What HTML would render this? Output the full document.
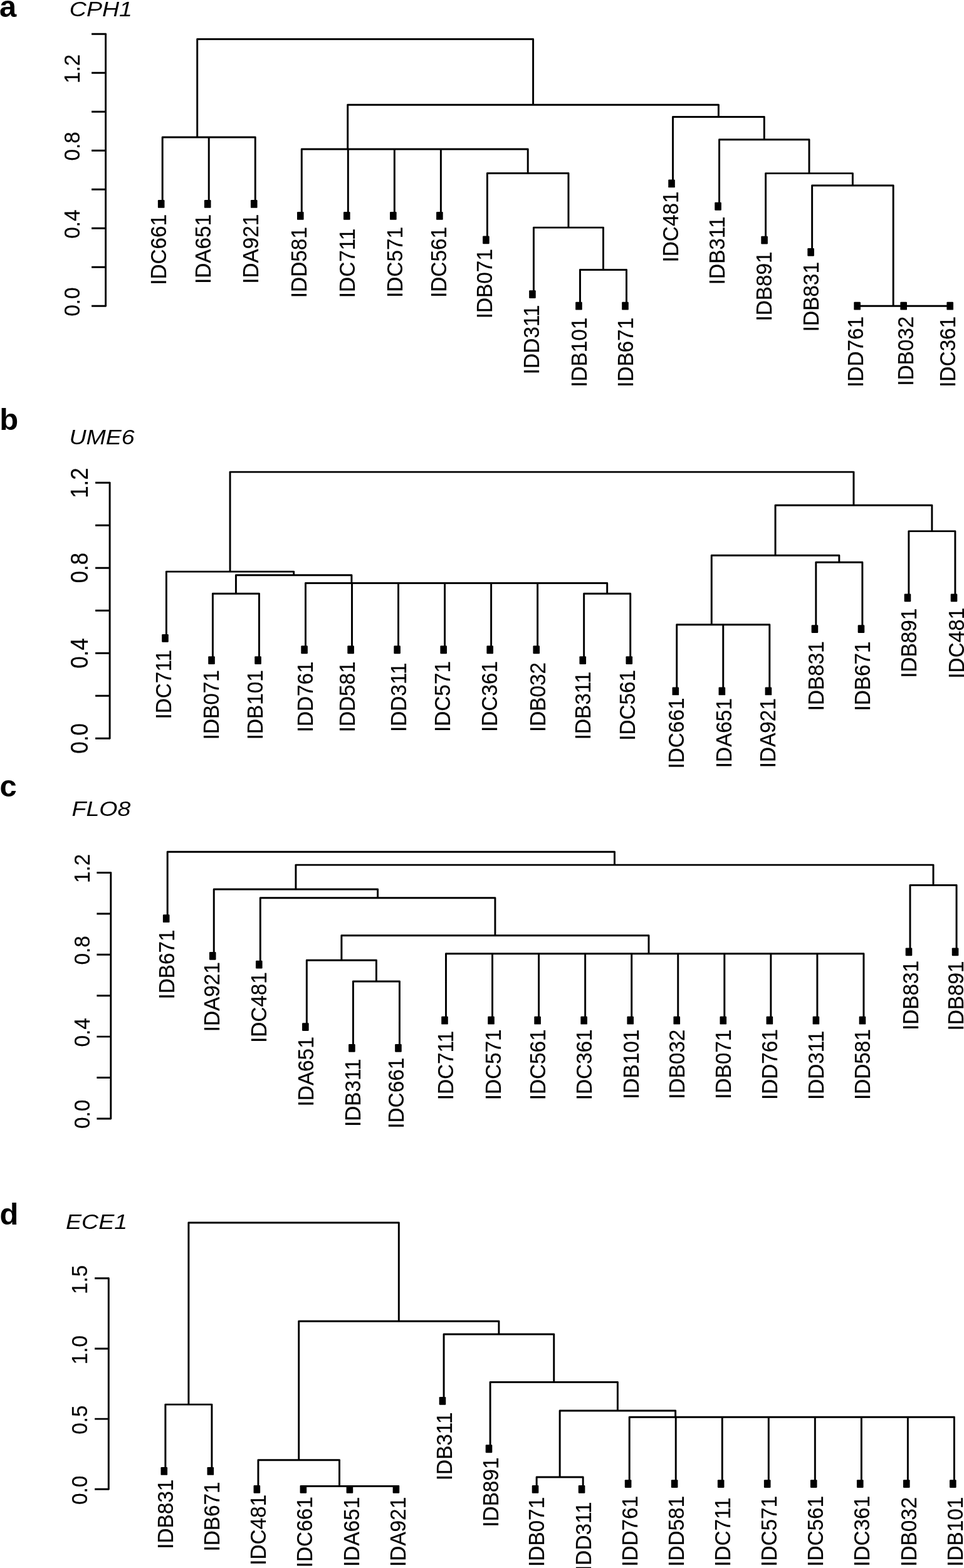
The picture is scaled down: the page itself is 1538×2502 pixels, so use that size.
<!DOCTYPE html>
<html lang="en">
<head>
<meta charset="utf-8">
<title>Dendrograms: CPH1, UME6, FLO8, ECE1</title>
<style>
html,body{margin:0;padding:0;background:#fff;}
body{width:1538px;height:2502px;overflow:hidden;}
svg{display:block;}
.ln{fill:none;stroke:#000;stroke-width:2.95;stroke-linecap:round;stroke-linejoin:round;}
.tk{fill:none;stroke:#000;stroke-width:2.95;stroke-linecap:butt;}
.mk{fill:#000;}
text{font-family:"Liberation Sans",Arial,Helvetica,sans-serif;fill:#000;}
.lb{font-size:33.3px;stroke:#000;stroke-width:0.2px;}
.ax{font-size:33.3px;stroke:#000;stroke-width:0.2px;}
.pl{font-size:49px;font-weight:bold;}
.ti{font-size:34px;font-style:italic;}
</style>
</head>
<body>
<svg width="1538" height="2502" viewBox="0 0 1538 2502">
<rect width="1538" height="2502" fill="#fff"/>
<path class="ln" d="M314.72 62.4H850.57M314.72 62.4V219M259.2 219H370.25M259.2 219V325.45M333.23 219H407.26M333.23 219V325.45M407.26 219V325.45M850.57 62.4V167.3M554.74 167.3H1146.4M554.74 167.3V238M481.29 238H628.19M481.29 238V344.45M555.32 238H701.07M555.32 238V344.45M629.35 238H772.78M629.35 238V344.45M703.38 238H842.19M703.38 238V344.45M842.19 238V276.4M777.41 276.4H906.96M777.41 276.4V382.85M906.96 276.4V363.1M851.44 363.1H962.49M851.44 363.1V469.55M962.49 363.1V430.5M925.47 430.5H999.5M925.47 430.5V488.2M999.5 430.5V488.2M1146.4 167.3V186.5M1073.53 186.5H1219.28M1073.53 186.5V292.95M1219.28 186.5V222.8M1147.56 222.8H1290.99M1147.56 222.8V329.25M1290.99 222.8V276.6M1221.59 276.6H1360.4M1221.59 276.6V383.05M1360.4 276.6V295.9M1295.62 295.9H1425.17M1295.62 295.9V402.35M1425.17 295.9V488.2M1369.65 488.2H1480.7M1443.68 488.2H1517.71"/>
<path class="ln" d="M168.6 488.2V54.2"/>
<path class="tk" d="M146.1 488.2H168.6M146.1 426.2H168.6M146.1 364.2H168.6M146.1 302.2H168.6M146.1 240.2H168.6M146.1 178.2H168.6M146.1 116.2H168.6M146.1 54.2H168.6"/>
<text class="ax" style="font-size:33.3px" transform="translate(126.7 504.69) rotate(-90) scale(1 1.078)">0.0</text>
<text class="ax" style="font-size:33.3px" transform="translate(126.7 380.85) rotate(-90) scale(1 1.078)">0.4</text>
<text class="ax" style="font-size:33.3px" transform="translate(126.7 256.6) rotate(-90) scale(1 1.078)">0.8</text>
<text class="ax" style="font-size:33.3px" transform="translate(126.7 133.06) rotate(-90) scale(1 1.078)">1.2</text>
<rect class="mk" x="251.9" y="319.05" width="10.6" height="12.8" rx="1.2"/>
<rect class="mk" x="325.93" y="319.05" width="10.6" height="12.8" rx="1.2"/>
<rect class="mk" x="399.96" y="319.05" width="10.6" height="12.8" rx="1.2"/>
<rect class="mk" x="473.99" y="338.05" width="10.6" height="12.8" rx="1.2"/>
<rect class="mk" x="548.02" y="338.05" width="10.6" height="12.8" rx="1.2"/>
<rect class="mk" x="622.05" y="338.05" width="10.6" height="12.8" rx="1.2"/>
<rect class="mk" x="696.08" y="338.05" width="10.6" height="12.8" rx="1.2"/>
<rect class="mk" x="770.11" y="376.45" width="10.6" height="12.8" rx="1.2"/>
<rect class="mk" x="844.14" y="463.15" width="10.6" height="12.8" rx="1.2"/>
<rect class="mk" x="918.17" y="481.8" width="10.6" height="12.8" rx="1.2"/>
<rect class="mk" x="992.2" y="481.8" width="10.6" height="12.8" rx="1.2"/>
<rect class="mk" x="1066.23" y="286.55" width="10.6" height="12.8" rx="1.2"/>
<rect class="mk" x="1140.26" y="322.85" width="10.6" height="12.8" rx="1.2"/>
<rect class="mk" x="1214.29" y="376.65" width="10.6" height="12.8" rx="1.2"/>
<rect class="mk" x="1288.32" y="395.95" width="10.6" height="12.8" rx="1.2"/>
<rect class="mk" x="1362.35" y="481.8" width="10.6" height="12.8" rx="1.2"/>
<rect class="mk" x="1436.38" y="481.8" width="10.6" height="12.8" rx="1.2"/>
<rect class="mk" x="1510.41" y="481.8" width="10.6" height="12.8" rx="1.2"/>
<text class="lb" transform="translate(264.7 454.83) rotate(-90) scale(1 1.078)">IDC661</text>
<text class="lb" transform="translate(336.03 453.03) rotate(-90) scale(1 1.078)">IDA651</text>
<text class="lb" transform="translate(411.96 452.73) rotate(-90) scale(1 1.078)">IDA921</text>
<text class="lb" transform="translate(489.39 475.13) rotate(-90) scale(1 1.078)">IDD581</text>
<text class="lb" transform="translate(566.12 475.13) rotate(-90) scale(1 1.078)">IDC711</text>
<text class="lb" transform="translate(641.65 474.93) rotate(-90) scale(1 1.078)">IDC571</text>
<text class="lb" transform="translate(711.78 474.93) rotate(-90) scale(1 1.078)">IDC561</text>
<text class="lb" transform="translate(785.31 508.33) rotate(-90) scale(1 1.078)">IDB071</text>
<text class="lb" transform="translate(859.54 597.13) rotate(-90) scale(1 1.078)">IDD311</text>
<text class="lb" transform="translate(935.77 617.78) rotate(-90) scale(1 1.078)">IDB101</text>
<text class="lb" transform="translate(1010.1 617.88) rotate(-90) scale(1 1.078)">IDB671</text>
<text class="lb" transform="translate(1081.93 418.43) rotate(-90) scale(1 1.078)">IDC481</text>
<text class="lb" transform="translate(1155.96 454.13) rotate(-90) scale(1 1.078)">IDB311</text>
<text class="lb" transform="translate(1230.59 512.43) rotate(-90) scale(1 1.078)">IDB891</text>
<text class="lb" transform="translate(1305.62 529.13) rotate(-90) scale(1 1.078)">IDB831</text>
<text class="lb" transform="translate(1377.15 617.88) rotate(-90) scale(1 1.078)">IDD761</text>
<text class="lb" transform="translate(1456.88 615.78) rotate(-90) scale(1 1.078)">IDB032</text>
<text class="lb" transform="translate(1523.61 617.88) rotate(-90) scale(1 1.078)">IDC361</text>
<text class="pl" x="-1" y="26.5">a</text>
<text class="ti" transform="translate(110.8 26.3) scale(1.105 1)">CPH1</text>
<path class="ln" d="M367.05 753.1H1361.97M367.05 753.1V912.1M265.4 912.1H468.69M265.4 912.1V1018.38M468.69 912.1V917.7M376.44 917.7H560.94M376.44 917.7V947.3M339.43 947.3H413.46M339.43 947.3V1053.58M413.46 947.3V1053.58M560.94 917.7V930.5M487.49 930.5H634.39M487.49 930.5V1036.77M561.52 930.5H707.27M561.52 930.5V1036.77M635.55 930.5H778.98M635.55 930.5V1036.77M709.58 930.5H848.39M709.58 930.5V1036.77M783.61 930.5H913.16M783.61 930.5V1036.77M857.64 930.5H968.68M857.64 930.5V1036.77M968.68 930.5V947.3M931.67 947.3H1005.7M931.67 947.3V1053.58M1005.7 947.3V1053.58M1361.97 753.1V806.2M1237.04 806.2H1486.89M1237.04 806.2V886.2M1135.25 886.2H1338.84M1135.25 886.2V996.7M1079.73 996.7H1190.78M1079.73 996.7V1102.97M1153.76 996.7H1227.79M1153.76 996.7V1102.97M1227.79 996.7V1102.97M1338.84 886.2V897.3M1301.82 897.3H1375.85M1301.82 897.3V1003.58M1375.85 897.3V1003.58M1486.89 806.2V847.6M1449.88 847.6H1523.91M1449.88 847.6V953.88M1523.91 847.6V953.88"/>
<path class="ln" d="M175.1 1178.2V770.2"/>
<path class="tk" d="M152.1 1178.2H175.1M152.1 1110.2H175.1M152.1 1042.2H175.1M152.1 974.2H175.1M152.1 906.2H175.1M152.1 838.2H175.1M152.1 770.2H175.1"/>
<text class="ax" style="font-size:34.8px" transform="translate(140.2 1202.43) rotate(-90) scale(1 1.1)">0.0</text>
<text class="ax" style="font-size:34.8px" transform="translate(140.2 1066.6) rotate(-90) scale(1 1.1)">0.4</text>
<text class="ax" style="font-size:34.8px" transform="translate(140.2 930.34) rotate(-90) scale(1 1.1)">0.8</text>
<text class="ax" style="font-size:34.8px" transform="translate(140.2 794.82) rotate(-90) scale(1 1.1)">1.2</text>
<rect class="mk" x="258.2" y="1011.98" width="10.6" height="12.8" rx="1.2"/>
<rect class="mk" x="332.23" y="1047.17" width="10.6" height="12.8" rx="1.2"/>
<rect class="mk" x="406.26" y="1047.17" width="10.6" height="12.8" rx="1.2"/>
<rect class="mk" x="480.29" y="1030.37" width="10.6" height="12.8" rx="1.2"/>
<rect class="mk" x="554.32" y="1030.37" width="10.6" height="12.8" rx="1.2"/>
<rect class="mk" x="628.35" y="1030.37" width="10.6" height="12.8" rx="1.2"/>
<rect class="mk" x="702.38" y="1030.37" width="10.6" height="12.8" rx="1.2"/>
<rect class="mk" x="776.41" y="1030.37" width="10.6" height="12.8" rx="1.2"/>
<rect class="mk" x="850.44" y="1030.37" width="10.6" height="12.8" rx="1.2"/>
<rect class="mk" x="924.47" y="1047.17" width="10.6" height="12.8" rx="1.2"/>
<rect class="mk" x="998.5" y="1047.17" width="10.6" height="12.8" rx="1.2"/>
<rect class="mk" x="1072.53" y="1096.57" width="10.6" height="12.8" rx="1.2"/>
<rect class="mk" x="1146.56" y="1096.57" width="10.6" height="12.8" rx="1.2"/>
<rect class="mk" x="1220.59" y="1096.57" width="10.6" height="12.8" rx="1.2"/>
<rect class="mk" x="1294.62" y="997.18" width="10.6" height="12.8" rx="1.2"/>
<rect class="mk" x="1368.65" y="997.18" width="10.6" height="12.8" rx="1.2"/>
<rect class="mk" x="1442.68" y="947.48" width="10.6" height="12.8" rx="1.2"/>
<rect class="mk" x="1516.71" y="947.48" width="10.6" height="12.8" rx="1.2"/>
<text class="lb" transform="translate(273.1 1147.46) rotate(-90) scale(1 1.078)">IDC711</text>
<text class="lb" transform="translate(348.73 1180.26) rotate(-90) scale(1 1.078)">IDB071</text>
<text class="lb" transform="translate(418.76 1180.26) rotate(-90) scale(1 1.078)">IDB101</text>
<text class="lb" transform="translate(498.59 1168.26) rotate(-90) scale(1 1.078)">IDD761</text>
<text class="lb" transform="translate(566.32 1168.26) rotate(-90) scale(1 1.078)">IDD581</text>
<text class="lb" transform="translate(647.75 1167.96) rotate(-90) scale(1 1.078)">IDD311</text>
<text class="lb" transform="translate(718.08 1167.96) rotate(-90) scale(1 1.078)">IDC571</text>
<text class="lb" transform="translate(793.41 1167.96) rotate(-90) scale(1 1.078)">IDC361</text>
<text class="lb" transform="translate(869.54 1167.96) rotate(-90) scale(1 1.078)">IDB032</text>
<text class="lb" transform="translate(942.27 1180.26) rotate(-90) scale(1 1.078)">IDB311</text>
<text class="lb" transform="translate(1013.4 1181.86) rotate(-90) scale(1 1.078)">IDC561</text>
<text class="lb" transform="translate(1090.83 1226.46) rotate(-90) scale(1 1.078)">IDC661</text>
<text class="lb" transform="translate(1167.06 1225.16) rotate(-90) scale(1 1.078)">IDA651</text>
<text class="lb" transform="translate(1237.09 1225.16) rotate(-90) scale(1 1.078)">IDA921</text>
<text class="lb" transform="translate(1313.72 1134.26) rotate(-90) scale(1 1.078)">IDB831</text>
<text class="lb" transform="translate(1387.75 1134.56) rotate(-90) scale(1 1.078)">IDB671</text>
<text class="lb" transform="translate(1462.38 1081.86) rotate(-90) scale(1 1.078)">IDB891</text>
<text class="lb" transform="translate(1537.71 1082.66) rotate(-90) scale(1 1.078)">IDC481</text>
<text class="pl" x="-0.8" y="685.5">b</text>
<text class="ti" transform="translate(110.4 709.3) scale(1.105 1)">UME6</text>
<path class="ln" d="M267.2 1359.3H980.48M267.2 1359.3V1465.7M980.48 1359.3V1380.1M471.94 1380.1H1489.03M471.94 1380.1V1418.9M341.25 1418.9H602.62M341.25 1418.9V1525.3M602.62 1418.9V1432.7M415.3 1432.7H789.94M415.3 1432.7V1539.1M789.94 1432.7V1492.7M544.89 1492.7H1035M544.89 1492.7V1532.2M489.35 1532.2H600.42M489.35 1532.2V1638.6M600.42 1532.2V1565.9M563.4 1565.9H637.45M563.4 1565.9V1672.3M637.45 1565.9V1672.3M1035 1492.7V1521.8M711.5 1521.8H1377.95M711.5 1521.8V1628.2M785.55 1521.8V1628.2M859.6 1521.8V1628.2M933.65 1521.8V1628.2M1007.7 1521.8V1628.2M1081.75 1521.8V1628.2M1155.8 1521.8V1628.2M1229.85 1521.8V1628.2M1303.9 1521.8V1628.2M1377.95 1521.8V1628.2M1489.03 1380.1V1412.4M1452 1412.4H1526.05M1452 1412.4V1518.8M1526.05 1412.4V1518.8"/>
<path class="ln" d="M176.8 1784.9V1392.5"/>
<path class="tk" d="M154.4 1784.9H176.8M154.4 1719.5H176.8M154.4 1654.1H176.8M154.4 1588.7H176.8M154.4 1523.3H176.8M154.4 1457.9H176.8M154.4 1392.5H176.8"/>
<text class="ax" style="font-size:33.3px" transform="translate(142.6 1801.09) rotate(-90) scale(1 1.078)">0.0</text>
<text class="ax" style="font-size:33.3px" transform="translate(142.6 1670.45) rotate(-90) scale(1 1.078)">0.4</text>
<text class="ax" style="font-size:33.3px" transform="translate(142.6 1539.4) rotate(-90) scale(1 1.078)">0.8</text>
<text class="ax" style="font-size:33.3px" transform="translate(142.6 1409.06) rotate(-90) scale(1 1.078)">1.2</text>
<rect class="mk" x="259.9" y="1459.3" width="10.6" height="12.8" rx="1.2"/>
<rect class="mk" x="333.95" y="1518.9" width="10.6" height="12.8" rx="1.2"/>
<rect class="mk" x="408" y="1532.7" width="10.6" height="12.8" rx="1.2"/>
<rect class="mk" x="482.05" y="1632.2" width="10.6" height="12.8" rx="1.2"/>
<rect class="mk" x="556.1" y="1665.9" width="10.6" height="12.8" rx="1.2"/>
<rect class="mk" x="630.15" y="1665.9" width="10.6" height="12.8" rx="1.2"/>
<rect class="mk" x="704.2" y="1621.8" width="10.6" height="12.8" rx="1.2"/>
<rect class="mk" x="778.25" y="1621.8" width="10.6" height="12.8" rx="1.2"/>
<rect class="mk" x="852.3" y="1621.8" width="10.6" height="12.8" rx="1.2"/>
<rect class="mk" x="926.35" y="1621.8" width="10.6" height="12.8" rx="1.2"/>
<rect class="mk" x="1000.4" y="1621.8" width="10.6" height="12.8" rx="1.2"/>
<rect class="mk" x="1074.45" y="1621.8" width="10.6" height="12.8" rx="1.2"/>
<rect class="mk" x="1148.5" y="1621.8" width="10.6" height="12.8" rx="1.2"/>
<rect class="mk" x="1222.55" y="1621.8" width="10.6" height="12.8" rx="1.2"/>
<rect class="mk" x="1296.6" y="1621.8" width="10.6" height="12.8" rx="1.2"/>
<rect class="mk" x="1370.65" y="1621.8" width="10.6" height="12.8" rx="1.2"/>
<rect class="mk" x="1444.7" y="1512.4" width="10.6" height="12.8" rx="1.2"/>
<rect class="mk" x="1518.75" y="1512.4" width="10.6" height="12.8" rx="1.2"/>
<text class="lb" transform="translate(278.1 1594.58) rotate(-90) scale(1 1.078)">IDB671</text>
<text class="lb" transform="translate(349.75 1646.28) rotate(-90) scale(1 1.078)">IDA921</text>
<text class="lb" transform="translate(425.4 1664.08) rotate(-90) scale(1 1.078)">IDC481</text>
<text class="lb" transform="translate(499.95 1765.38) rotate(-90) scale(1 1.078)">IDA651</text>
<text class="lb" transform="translate(574.5 1797.98) rotate(-90) scale(1 1.078)">IDB311</text>
<text class="lb" transform="translate(643.85 1800.68) rotate(-90) scale(1 1.078)">IDC661</text>
<text class="lb" transform="translate(722.6 1755.28) rotate(-90) scale(1 1.078)">IDC711</text>
<text class="lb" transform="translate(798.85 1755.28) rotate(-90) scale(1 1.078)">IDC571</text>
<text class="lb" transform="translate(870.2 1755.28) rotate(-90) scale(1 1.078)">IDC561</text>
<text class="lb" transform="translate(944.25 1755.28) rotate(-90) scale(1 1.078)">IDC361</text>
<text class="lb" transform="translate(1018.6 1753.68) rotate(-90) scale(1 1.078)">IDB101</text>
<text class="lb" transform="translate(1092.15 1753.68) rotate(-90) scale(1 1.078)">IDB032</text>
<text class="lb" transform="translate(1166.4 1753.68) rotate(-90) scale(1 1.078)">IDB071</text>
<text class="lb" transform="translate(1240.35 1755.08) rotate(-90) scale(1 1.078)">IDD761</text>
<text class="lb" transform="translate(1313.9 1755.08) rotate(-90) scale(1 1.078)">IDD311</text>
<text class="lb" transform="translate(1388.35 1754.98) rotate(-90) scale(1 1.078)">IDD581</text>
<text class="lb" transform="translate(1464.8 1643.98) rotate(-90) scale(1 1.078)">IDB831</text>
<text class="lb" transform="translate(1536.55 1644.58) rotate(-90) scale(1 1.078)">IDB891</text>
<text class="pl" x="-0.5" y="1270.5">c</text>
<text class="ti" transform="translate(114.5 1301.8) scale(1.105 1)">FLO8</text>
<path class="ln" d="M300.91 1950.9H636.33M300.91 1950.9V2241.1M263.9 2241.1H337.93M263.9 2241.1V2347.45M337.93 2241.1V2347.45M636.33 1950.9V2108.2M476.74 2108.2H795.92M476.74 2108.2V2329.8M411.96 2329.8H541.51M411.96 2329.8V2376.3M541.51 2329.8V2371.5M485.99 2371.5H597.03M485.99 2371.5V2376.3M560.02 2371.5H634.05M560.02 2371.5V2376.3M634.05 2371.5V2376.3M795.92 2108.2V2129M708.08 2129H883.76M708.08 2129V2235.35M883.76 2129V2205.4M782.11 2205.4H985.4M782.11 2205.4V2311.75M985.4 2205.4V2251M893.15 2251H1077.65M893.15 2251V2357M856.14 2357H930.17M856.14 2357V2376.3M930.17 2357V2376.3M1077.65 2251V2261.2M1004.2 2261.2H1151.1M1004.2 2261.2V2367.55M1078.23 2261.2H1223.98M1078.23 2261.2V2367.55M1152.26 2261.2H1295.69M1152.26 2261.2V2367.55M1226.29 2261.2H1365.1M1226.29 2261.2V2367.55M1300.32 2261.2H1429.87M1300.32 2261.2V2367.55M1374.35 2261.2H1485.39M1374.35 2261.2V2367.55M1448.38 2261.2H1522.41M1448.38 2261.2V2367.55M1522.41 2261.2V2367.55"/>
<path class="ln" d="M173.3 2376.3V2039.7"/>
<path class="tk" d="M151.1 2376.3H173.3M151.1 2264.1H173.3M151.1 2151.9H173.3M151.1 2039.7H173.3"/>
<text class="ax" style="font-size:33.3px" transform="translate(139 2400.99) rotate(-90) scale(1 1.078)">0.0</text>
<text class="ax" style="font-size:33.3px" transform="translate(139 2288.74) rotate(-90) scale(1 1.078)">0.5</text>
<text class="ax" style="font-size:33.3px" transform="translate(139 2177.17) rotate(-90) scale(1 1.078)">1.0</text>
<text class="ax" style="font-size:33.3px" transform="translate(139 2064.93) rotate(-90) scale(1 1.078)">1.5</text>
<rect class="mk" x="256.5" y="2341.05" width="10.6" height="12.8" rx="1.2"/>
<rect class="mk" x="330.53" y="2341.05" width="10.6" height="12.8" rx="1.2"/>
<rect class="mk" x="404.56" y="2369.9" width="10.6" height="12.8" rx="1.2"/>
<rect class="mk" x="478.59" y="2369.9" width="10.6" height="12.8" rx="1.2"/>
<rect class="mk" x="552.62" y="2369.9" width="10.6" height="12.8" rx="1.2"/>
<rect class="mk" x="626.65" y="2369.9" width="10.6" height="12.8" rx="1.2"/>
<rect class="mk" x="700.68" y="2228.95" width="10.6" height="12.8" rx="1.2"/>
<rect class="mk" x="774.71" y="2305.35" width="10.6" height="12.8" rx="1.2"/>
<rect class="mk" x="848.74" y="2369.9" width="10.6" height="12.8" rx="1.2"/>
<rect class="mk" x="922.77" y="2369.9" width="10.6" height="12.8" rx="1.2"/>
<rect class="mk" x="996.8" y="2361.15" width="10.6" height="12.8" rx="1.2"/>
<rect class="mk" x="1070.83" y="2361.15" width="10.6" height="12.8" rx="1.2"/>
<rect class="mk" x="1144.86" y="2361.15" width="10.6" height="12.8" rx="1.2"/>
<rect class="mk" x="1218.89" y="2361.15" width="10.6" height="12.8" rx="1.2"/>
<rect class="mk" x="1292.92" y="2361.15" width="10.6" height="12.8" rx="1.2"/>
<rect class="mk" x="1366.95" y="2361.15" width="10.6" height="12.8" rx="1.2"/>
<rect class="mk" x="1440.98" y="2361.15" width="10.6" height="12.8" rx="1.2"/>
<rect class="mk" x="1515.01" y="2361.15" width="10.6" height="12.8" rx="1.2"/>
<text class="lb" transform="translate(276.4 2471.83) rotate(-90) scale(1 1.078)">IDB831</text>
<text class="lb" transform="translate(349.83 2475.53) rotate(-90) scale(1 1.078)">IDB671</text>
<text class="lb" transform="translate(424.16 2497.78) rotate(-90) scale(1 1.078)">IDC481</text>
<text class="lb" transform="translate(498.19 2501.18) rotate(-90) scale(1 1.078)">IDC661</text>
<text class="lb" transform="translate(573.02 2499.88) rotate(-90) scale(1 1.078)">IDA651</text>
<text class="lb" transform="translate(646.55 2499.88) rotate(-90) scale(1 1.078)">IDA921</text>
<text class="lb" transform="translate(721.08 2362.13) rotate(-90) scale(1 1.078)">IDB311</text>
<text class="lb" transform="translate(795.11 2436.63) rotate(-90) scale(1 1.078)">IDB891</text>
<text class="lb" transform="translate(868.34 2499.88) rotate(-90) scale(1 1.078)">IDB071</text>
<text class="lb" transform="translate(943.17 2506.88) rotate(-90) scale(1 1.078)">IDD311</text>
<text class="lb" transform="translate(1016.7 2499.83) rotate(-90) scale(1 1.078)">IDD761</text>
<text class="lb" transform="translate(1090.73 2499.83) rotate(-90) scale(1 1.078)">IDD581</text>
<text class="lb" transform="translate(1165.26 2499.83) rotate(-90) scale(1 1.078)">IDC711</text>
<text class="lb" transform="translate(1238.89 2499.83) rotate(-90) scale(1 1.078)">IDC571</text>
<text class="lb" transform="translate(1313.32 2499.83) rotate(-90) scale(1 1.078)">IDC561</text>
<text class="lb" transform="translate(1387.35 2499.83) rotate(-90) scale(1 1.078)">IDC361</text>
<text class="lb" transform="translate(1462.18 2499.83) rotate(-90) scale(1 1.078)">IDB032</text>
<text class="lb" transform="translate(1536.21 2499.83) rotate(-90) scale(1 1.078)">IDB101</text>
<text class="pl" x="-0.6" y="1953.9">d</text>
<text class="ti" transform="translate(105 1960.8) scale(1.105 1)">ECE1</text>
</svg>
</body>
</html>
